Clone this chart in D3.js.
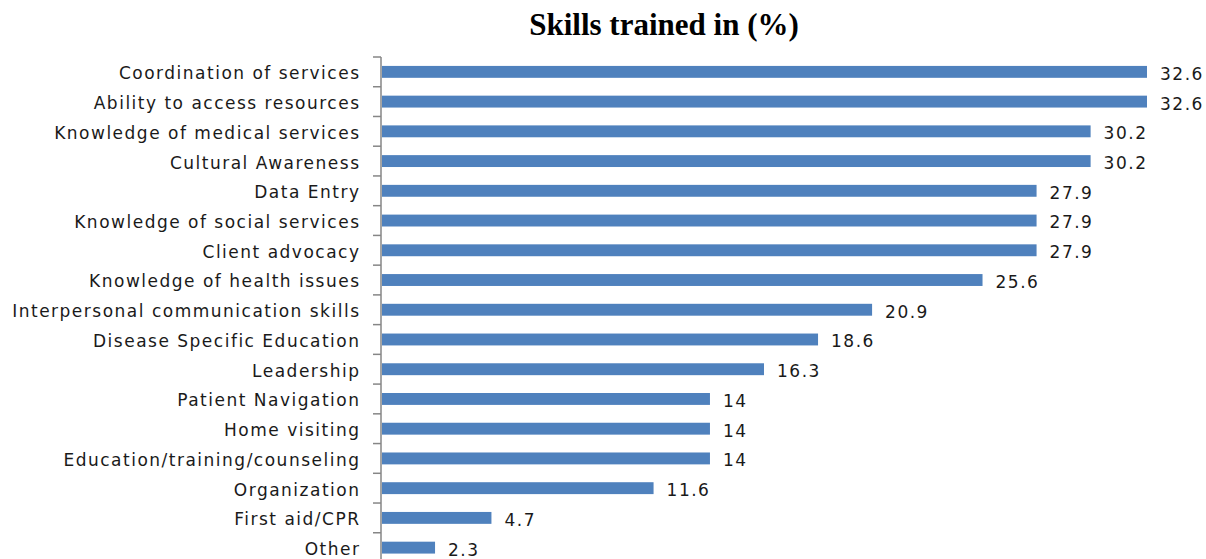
<!DOCTYPE html>
<html>
<head>
<meta charset="utf-8">
<script src="https://cdn.jsdelivr.net/npm/d3@7"></script>
<style>
  body { margin: 0; background: #fff; }
  #chart { width: 1206px; height: 559px; overflow: hidden; }
  .lbl { font-family: "DejaVu Sans", Verdana, sans-serif; font-size: 17px; letter-spacing: 1.5px; fill: #1a1a1a; }
</style>
</head>
<body>
<div id="chart"></div>
<script>
var skills = ["Coordination of services", "Ability to access resources", "Knowledge of medical services",
  "Cultural Awareness", "Data Entry", "Knowledge of social services", "Client advocacy",
  "Knowledge of health issues", "Interpersonal communication skills", "Disease Specific Education",
  "Leadership", "Patient Navigation", "Home visiting", "Education/training/counseling",
  "Organization", "First aid/CPR", "Other"];
var percents = [32.6, 32.6, 30.2, 30.2, 27.9, 27.9, 27.9, 25.6, 20.9, 18.6, 16.3, 14, 14, 14, 11.6, 4.7, 2.3];
var title = "Skills trained in (%)";

var W = 1206, H = 559;
var margin = {top: 57, left: 381};

var svg = d3.select("#chart").append("svg")
    .attr("width", W)
    .attr("height", H);

var rows = skills.map(function(s, i) { return {name: s, value: percents[i]}; });

var x = d3.scaleLinear()
    .domain([0, 32.6])
    .range([margin.left, 1147]);

var y = d3.scaleBand()
    .domain(skills)
    .range([margin.top, margin.top + 505.5])
    .paddingInner(0.6)
    .paddingOuter(0.3);

svg.append("text")
    .attr("x", 664)
    .attr("y", 35)
    .attr("text-anchor", "middle")
    .style("font-family", "'Liberation Serif', 'Times New Roman', serif")
    .style("font-weight", "bold")
    .style("font-size", "31px")
    .style("fill", "#000")
    .text(title);

svg.selectAll(".bar")
    .data(rows)
  .enter().append("rect")
    .attr("class", "bar")
    .attr("x", x(0) + 1)
    .attr("y", function(d) { return y(d.name); })
    .attr("width", function(d) { return x(d.value) - x(0) - 1; })
    .attr("height", y.bandwidth())
    .attr("fill", "#4F81BD");

// axis line + ticks at band boundaries
var step = y.step();
var bounds = d3.range(skills.length + 1).map(function(i) { return margin.top + i * step; });
var axis = svg.append("g").attr("stroke", "#868686").attr("stroke-width", 1.5);
axis.append("line")
    .attr("x1", x(0)).attr("x2", x(0))
    .attr("y1", margin.top).attr("y2", H + 10);
axis.selectAll(".tick")
    .data(bounds)
  .enter().append("line")
    .attr("x1", x(0) - 8).attr("x2", x(0))
    .attr("y1", function(d) { return d; })
    .attr("y2", function(d) { return d; });

svg.selectAll(".cat")
    .data(rows)
  .enter().append("text")
    .attr("class", "lbl")
    .attr("x", x(0) - 20.5)
    .attr("y", function(d) { return y(d.name) + y.bandwidth() / 2 + 1.5; })
    .attr("dy", "0.35em")
    .attr("text-anchor", "end")
    .text(function(d) { return d.name; });

svg.selectAll(".val")
    .data(rows)
  .enter().append("text")
    .attr("class", "lbl")
    .attr("x", function(d) { return x(d.value) + 13; })
    .attr("y", function(d) { return y(d.name) + y.bandwidth() / 2 + 2; })
    .attr("dy", "0.35em")
    .text(function(d) { return d.value; });
</script>
</body>
</html>
